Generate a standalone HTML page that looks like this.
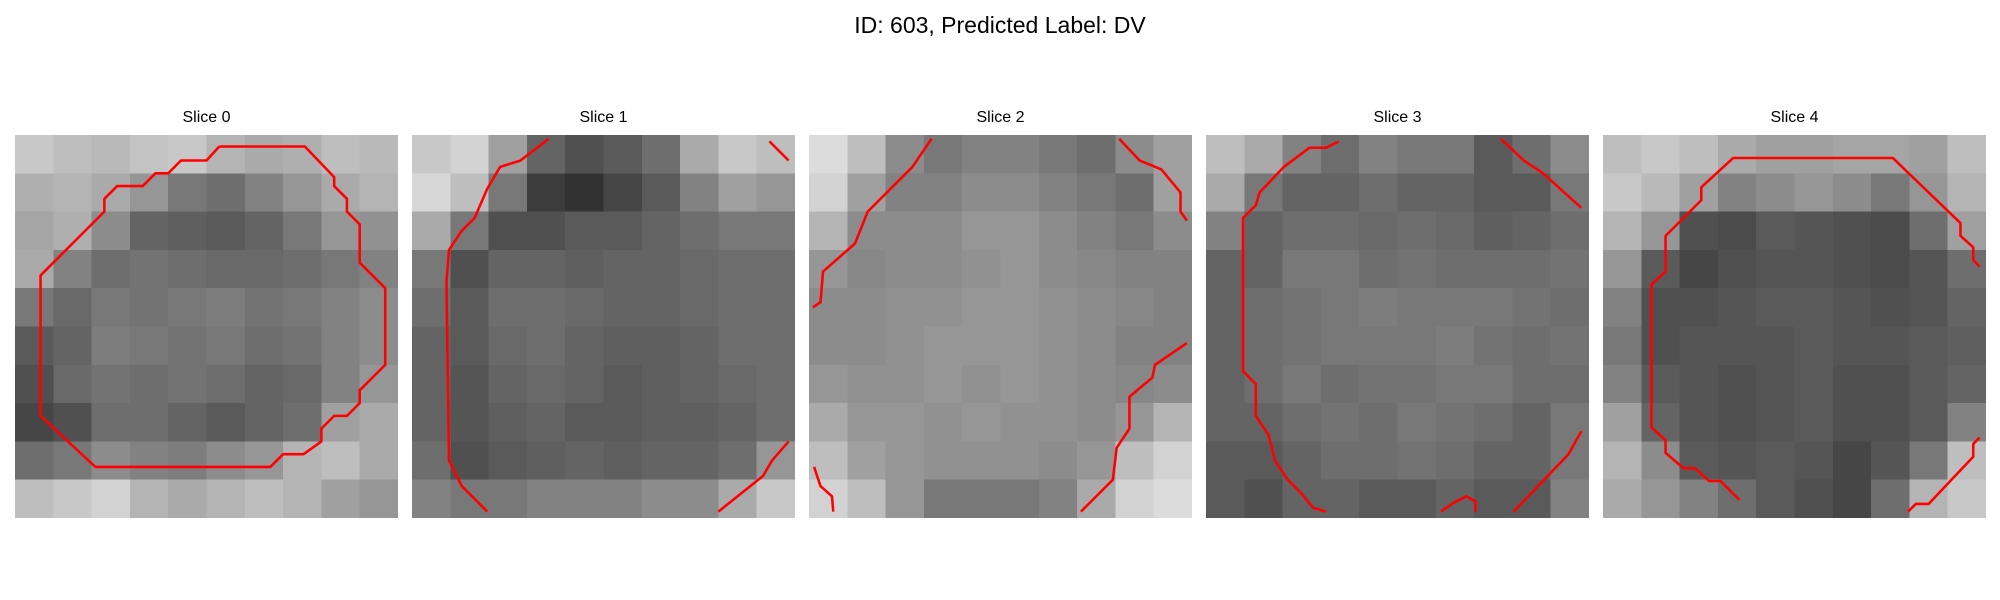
<!DOCTYPE html>
<html><head><meta charset="utf-8"><style>
html,body{margin:0;padding:0;background:#fff;}
body{width:2000px;height:600px;position:relative;overflow:hidden;font-family:"Liberation Sans","DejaVu Sans",sans-serif;}
#title{position:absolute;left:0;width:2000px;top:12px;text-align:center;font-size:23px;color:#000;}
.st{position:absolute;width:383px;text-align:center;font-size:16px;top:109px;color:#000;}
svg.p{position:absolute;top:135px;width:383px;height:383px;}
</style></head><body>
<div id="title">ID: 603, Predicted Label: DV</div>
<div id="root"></div>
<script>
const sliceTitles=["Slice 0","Slice 1","Slice 2","Slice 3","Slice 4"];
const panelLeft=[15,412,809,1206,1603];
const grid0=[[200,190,185,195,200,180,170,175,190,185],[175,180,170,150,120,110,130,150,170,180],[165,175,140,100,95,90,100,120,150,145],[170,130,110,115,110,105,105,110,120,130],[120,105,120,115,120,125,115,120,130,140],[90,100,125,120,115,120,110,115,130,140],[80,105,115,110,115,110,100,105,130,150],[70,80,110,110,100,90,100,110,160,170],[110,120,140,130,125,140,150,180,190,170],[190,200,210,180,170,180,190,180,160,150]];
const grid1=[[200,210,160,100,80,90,110,170,200,190],[215,190,120,60,50,70,90,130,160,150],[170,120,80,80,90,90,100,110,120,120],[120,80,100,100,95,100,100,105,110,110],[110,90,110,110,105,100,100,105,110,110],[100,90,105,110,100,95,95,100,110,110],[100,85,100,105,100,90,95,100,105,110],[100,85,95,100,90,90,95,95,100,110],[110,80,90,95,100,95,100,100,110,150],[130,120,120,130,130,130,140,140,170,200]];
const grid2=[[220,190,140,120,130,130,120,110,140,160],[210,160,130,130,140,140,130,120,110,160],[180,140,140,140,150,150,140,130,120,140],[150,135,140,140,145,150,140,135,130,130],[140,140,145,145,150,150,145,140,135,130],[140,140,145,150,150,150,145,140,130,130],[150,145,145,150,145,150,145,140,135,140],[170,150,150,145,150,145,145,140,150,180],[190,160,150,145,145,145,140,150,190,210],[210,190,150,120,120,120,130,170,210,220]];
const grid3=[[190,170,130,110,130,120,120,90,110,140],[170,120,100,100,110,100,100,90,90,120],[130,100,110,110,105,110,105,95,100,110],[100,100,120,120,110,115,110,110,110,115],[100,110,115,120,125,120,120,120,115,110],[100,110,115,120,120,120,125,115,110,115],[100,110,120,110,115,115,120,120,110,110],[100,100,110,115,110,120,115,110,100,120],[90,90,100,110,110,115,110,100,100,120],[90,80,100,100,90,90,100,90,90,130]];
const grid4=[[190,200,190,170,160,160,165,165,160,190],[200,185,160,130,140,150,140,120,150,180],[180,150,80,75,90,85,80,75,110,160],[150,90,70,80,85,85,80,75,85,110],[130,80,80,85,90,90,85,80,85,100],[120,80,85,85,85,90,85,85,90,95],[130,90,85,80,85,90,80,80,90,100],[160,100,85,80,85,90,80,80,90,130],[180,140,90,85,90,85,70,85,120,190],[170,150,130,110,90,80,70,110,180,200]];
const grids=[grid0,grid1,grid2,grid3,grid4];
const contours0=[[[16,0.9],[22.7,0.9],[25,3.3],[25,4],[26,5],[26,6],[27,7],[27,10],[28,11],[29,12],[29,18],[27,20],[27,21],[26,22],[25,22],[24,23],[24,24],[22.6,25],[21,25],[20,26],[6.3,26],[2,22],[2,11],[7,6],[7,5],[8,4],[10,4],[11,3],[12,3],[13,2],[15,2],[16,0.9]]];
const contours1=[[[10.7,0.3],[8.5,2],[6.9,2.5],[5.9,4.2],[4.9,6.5],[3.9,7.5],[2.9,9],[2.7,11.5],[2.9,25.5],[3.9,27.5],[5.9,29.5]],[[28,0.5],[29.5,2]],[[24,29.5],[27.5,26.7],[28.2,25.5],[29.5,24]]];
const contours2=[[[9.6,0.3],[8.1,2.5],[4.6,6],[3.6,8.5],[1.1,10.7],[0.9,13.1],[0.3,13.5]],[[24.3,0.3],[25.9,2],[27.6,2.7],[29.1,4.5],[29.1,6],[29.6,6.7]],[[29.6,16.3],[27.1,18],[26.9,19],[25.1,20.5],[25.1,23],[24.1,24.5],[23.8,27],[21.3,29.5]],[[0.4,26],[0.9,27.5],[1.8,28.3],[1.9,29.5]]];
const contours3=[[[10.4,0.5],[9.4,1],[8.1,1],[6.1,2.5],[4.2,4.5],[3.9,5.5],[2.9,6.5],[2.9,18.5],[3.9,19.5],[3.9,22],[4.9,23.5],[5.4,25.5],[6.4,27],[7.4,28],[8.4,29.2],[9.4,29.5]],[[23.1,0.3],[24.9,2],[26.4,3],[29.4,5.7]],[[24.1,29.5],[28.4,25],[29.4,23.2]],[[18.4,29.5],[19.4,28.8],[20.4,28.3],[21.1,28.7],[21.1,29.5]]];
const contours4=[[[29.5,10.3],[29,9.8],[29,8.8],[28,7.9],[28,6.9],[22.7,1.8],[10.2,1.8],[7.7,4.1],[7.7,5.1],[4.9,7.9],[4.9,10.7],[3.8,11.7],[3.8,22.9],[4.9,23.9],[4.9,24.9],[6.3,26.1],[7.2,26.1],[8.3,27.1],[9.2,27.1],[10.7,28.6]],[[23.9,29.5],[24.5,28.9],[25.5,28.9],[29,25.2],[29,24.2],[29.5,23.7]]];
const contours=[contours0,contours1,contours2,contours3,contours4];
const NS="http://www.w3.org/2000/svg";
const root=document.getElementById('root');
sliceTitles.forEach((t,i)=>{
  const lab=document.createElement('div');
  lab.className='st';lab.style.left=panelLeft[i]+'px';lab.textContent=t;
  
  
  root.appendChild(lab);
  const svg=document.createElementNS(NS,'svg');
  svg.setAttribute('class','p');svg.setAttribute('viewBox','0 0 30 30');
  svg.setAttribute('preserveAspectRatio','none');svg.setAttribute('shape-rendering','crispEdges');
  svg.style.left=panelLeft[i]+'px';
  
  
  const g=grids[i];const n=g.length;const cs=30/n;
  g.forEach((row,r)=>row.forEach((v,c)=>{
    const rc=document.createElementNS(NS,'rect');
    rc.setAttribute('x',c*cs);rc.setAttribute('y',r*cs);
    rc.setAttribute('width',cs+0.02);rc.setAttribute('height',cs+0.02);
    rc.setAttribute('fill','rgb('+v+','+v+','+v+')');
    
    
    svg.appendChild(rc);
  }));
  contours[i].forEach(pts=>{
    const pl=document.createElementNS(NS,'polyline');
    pl.setAttribute('points',pts.map(p=>p[0]+','+p[1]).join(' '));
    pl.setAttribute('fill','none');pl.setAttribute('stroke','#ff0000');
    pl.setAttribute('stroke-width','0.2');pl.setAttribute('shape-rendering','auto');
    pl.setAttribute('stroke-linejoin','round');
    
    
    svg.appendChild(pl);
  });
  root.appendChild(svg);
});
</script>
</body></html>
